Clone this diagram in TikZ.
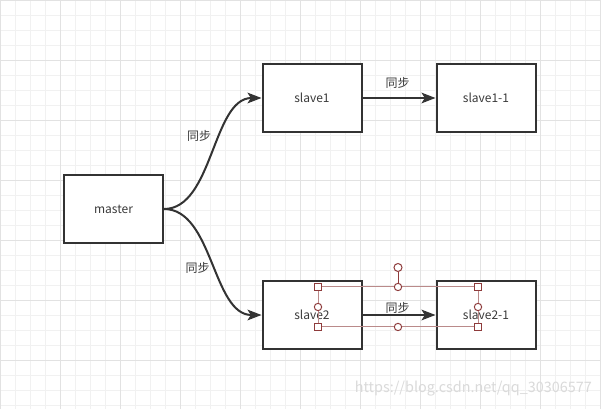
\documentclass[tikz,border=0pt]{standalone}
\usepackage{fontspec}
\setmainfont{Noto Sans CJK SC}
\usetikzlibrary{arrows.meta}
\definecolor{ink}{HTML}{333333}
\definecolor{txt}{HTML}{3A3A3A}
\definecolor{gridminor}{HTML}{F1F1F1}
\definecolor{gridmajor}{HTML}{E2E2E2}
\definecolor{sel}{HTML}{8E3B3B}
\definecolor{selline}{HTML}{BA8A8A}
\definecolor{wm}{HTML}{DADADA}
\begin{document}
\begin{tikzpicture}[x=0.75pt,y=-0.75pt,
  box/.style={draw=ink,line width=1.5pt,fill=white,minimum width=74.25pt,minimum height=51pt,inner sep=0pt,font=\fontsize{9pt}{11pt}\selectfont,text=txt},
  lbl/.style={font=\fontsize{9pt}{11pt}\selectfont,text=txt,inner sep=0pt},
  conn/.style={draw=ink,line width=1.5pt,-{Stealth[length=10.5pt,width=8pt,inset=2.5pt]}},
  hsq/.style={draw=sel,fill=white,line width=0.75pt,minimum size=5.2pt,inner sep=0pt},
  hci/.style={draw=sel,fill=white,circle,line width=0.75pt,minimum size=5.5pt,inner sep=0pt},
  minorline/.style={draw=gridminor,line width=0.75pt},
  majorline/.style={draw=gridmajor,line width=0.75pt}
]
\useasboundingbox (0,0) rectangle (601,409);
\fill[white] (0,0) rectangle (601,409);
% grid
\foreach \x in {0,15,...,600} \draw[minorline] (\x,0) -- (\x,409);
\foreach \y in {1,16,...,406} \draw[minorline] (0,\y) -- (601,\y);
\foreach \x in {0,60,...,600} \draw[majorline] (\x,0) -- (\x,409);
\foreach \y in {1,61,...,361} \draw[majorline] (0,\y) -- (601,\y);
% watermark
\node[anchor=east,text=wm,font=\fontsize{10.8pt}{13pt}\selectfont,inner sep=0pt] (wmark) at (592,389) {https://blog.csdn.net/qq\_30306577};
% boxes
\node[box] (master) at (113.5,209) {master};
\node[box] (s1) at (312,98) {slave1};
\node[box] (s11) at (486,98) {slave1-1};
\node[box] (s2) at (312,315) {slave2};
\node[box] (s21) at (486,315) {slave2-1};
% connectors
\draw[conn] (master.east) .. controls +(49,0) and +(-49,0) .. (s1.west);
\draw[conn] (master.east) .. controls +(49,0) and +(-49,0) .. (s2.west);
\draw[conn] (s1) -- (s11);
\draw[conn] (s2) -- (s21);
% labels
\node[lbl] (l1) at (199,136) {同步};
\node[lbl] (l2) at (197.5,267.5) {同步};
\node[lbl] (l3) at (397.5,83) {同步};
\node[lbl] (l4) at (397.5,307.5) {同步};
% selection handles
\node[hsq] (h1) at (318,287) {};
\node[hsq] (h2) at (478,287) {};
\node[hsq] (h3) at (318,327) {};
\node[hsq] (h4) at (478,327) {};
\node[hci] (c1) at (398,287) {};
\node[hci] (c2) at (398,327) {};
\node[hci] (c3) at (318,307) {};
\node[hci] (c4) at (478,307) {};
\node[hci,minimum size=6pt] (rot) at (398,267.5) {};
\draw[selline,line width=0.75pt] (h1) -- (c1) (c1) -- (h2) (h3) -- (c2) (c2) -- (h4)
  (h1) -- (c3) (c3) -- (h3) (h2) -- (c4) (c4) -- (h4);
\draw[sel,line width=0.75pt] (rot) -- (c1);
\end{tikzpicture}
\end{document}
